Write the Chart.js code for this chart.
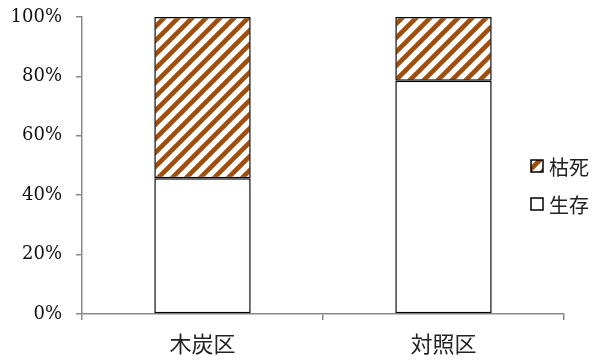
<!DOCTYPE html>
<html>
<head>
<meta charset="utf-8">
<script src="https://cdn.jsdelivr.net/npm/chart.js@4"></script>
<style>
  html, body { margin: 0; padding: 0; background: #fff; }
  #wrap { width: 600px; height: 362px; }
</style>
</head>
<body>
<div id="wrap"><canvas id="myChart"></canvas></div>
<script>
var ctx = document.getElementById('myChart');

var categories = ["木炭区", "対照区"];
var aliveData = [45.7, 78.5];
var deadData = [54.3, 21.5];
var yTicks = [0, 20, 40, 60, 80, 100];

var axisGray = "#898989";
var hatchBrown = "#A04E0C";

// diagonal stripes for the dead share
function makeHatch(color) {
  var c = document.createElement('canvas');
  c.width = 14;
  c.height = 14;
  var g = c.getContext('2d');
  g.fillStyle = "#fff";
  g.fillRect(0, 0, 14, 14);
  g.strokeStyle = color;
  g.lineWidth = 4.6;
  g.filter = 'blur(0.4px)';
  g.beginPath();
  [0, 14, 28].forEach(function (k) {
    g.moveTo(-2, k + 2);
    g.lineTo(k + 2, -2);
  });
  g.stroke();
  return g.createPattern(c, 'repeat');
}
var hatch = makeHatch(hatchBrown);

// legend sits inside the plot's right margin, so draw it by hand
var sideLegend = {
  id: 'sideLegend',
  afterDraw: function (chart) {
    var c = chart.ctx;
    var items = [
      { ds: chart.data.datasets[1], y: 166 },
      { ds: chart.data.datasets[0], y: 204 }
    ];
    c.save();
    items.forEach(function (it) {
      c.fillStyle = it.ds.backgroundColor;
      c.fillRect(531, it.y - 6, 12, 12);
      c.strokeStyle = "#000";
      c.lineWidth = 1.5;
      c.strokeRect(531, it.y - 6, 12, 12);
      c.fillStyle = "#222";
      c.font = '20px "Noto Sans CJK JP"';
      c.textBaseline = 'middle';
      c.fillText(it.ds.label, 549, it.y + 1);
    });
    c.restore();
  }
};

var chartData = {
  labels: categories,
  datasets: [
    {
      label: "生存",
      data: aliveData,
      backgroundColor: "#fff",
      borderColor: "#000",
      borderWidth: 1.5,
      borderSkipped: false
    },
    {
      label: "枯死",
      data: deadData,
      backgroundColor: hatch,
      borderColor: "#000",
      borderWidth: 1.5,
      borderSkipped: false
    }
  ]
};

var chartOptions = {
  responsive: true,
  maintainAspectRatio: false,
  animation: false,
  layout: { padding: { top: 17, right: 36, left: 0, bottom: 0 } },
  plugins: {
    legend: { display: false },
    tooltip: { enabled: false }
  },
  datasets: {
    bar: { categoryPercentage: 1, barPercentage: 0.4 }
  },
  scales: {
    x: {
      stacked: true,
      offset: true,
      border: { color: axisGray, width: 1.5 },
      grid: { offset: true, drawOnChartArea: false, tickLength: 6, color: axisGray, lineWidth: 1.5 },
      ticks: { color: "#222", padding: 10, font: { family: '"Noto Sans CJK JP"', size: 22 } },
      afterFit: function (s) {
        s.height = 48;
        s.paddingLeft = 0;
        s.paddingRight = 0;
      }
    },
    y: {
      stacked: true,
      min: 0,
      max: 100,
      afterBuildTicks: function (s) {
        s.ticks = yTicks.map(function (v) { return { value: v }; });
      },
      border: { color: axisGray, width: 1.5 },
      grid: { drawOnChartArea: false, tickLength: 6, color: axisGray, lineWidth: 1.5 },
      ticks: {
        color: "#111",
        padding: 14,
        font: { family: '"DejaVu Serif"', size: 18 },
        callback: function (v) { return v + "%"; }
      },
      afterFit: function (s) {
        s.width = 82;
        s.paddingTop = 0;
        s.paddingBottom = 0;
      }
    }
  }
};

var stackChart = new Chart(ctx, {
  type: 'bar',
  data: chartData,
  options: chartOptions,
  plugins: [sideLegend]
});
</script>
</body>
</html>
